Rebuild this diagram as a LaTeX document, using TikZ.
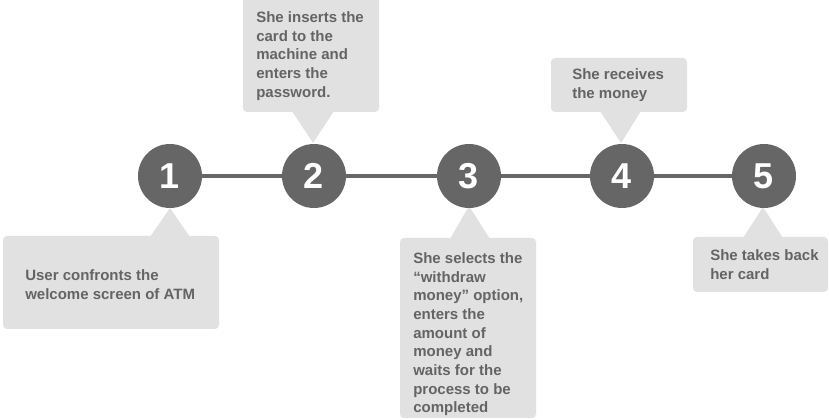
\documentclass[tikz,border=0pt]{standalone}
\usepackage{fontspec}
\setmainfont{Liberation Sans}
\definecolor{dark}{HTML}{666666}
\definecolor{boxgray}{HTML}{E1E1E1}
\definecolor{txt}{HTML}{646464}
\tikzset{
  stepcircle/.style={circle, fill=dark, minimum size=48pt, inner sep=0pt,
    text=white, font=\fontsize{27}{27}\selectfont\bfseries},
  calltext/.style={anchor=north west, inner sep=0pt, align=left, text=txt,
    font=\fontsize{11.25}{14}\selectfont\bfseries},
  callbox/.style={fill=boxgray, rounded corners=3pt},
  tipfill/.style={fill=boxgray},
  link/.style={draw=dark, line width=3.6pt}
}
\begin{document}
\begin{tikzpicture}[x=0.75pt,y=-0.75pt]
\useasboundingbox (0,0) rectangle (829,420);
% callout boxes
\fill[callbox] (3,236) rectangle (219,329);
\fill[tipfill] (150,237) -- (170,208) -- (190,237) -- cycle;
\fill[callbox] (243,-4) rectangle (379,112);
\fill[tipfill] (292,111) -- (313,143) -- (334,111) -- cycle;
\fill[callbox] (400,238) rectangle (536,418);
\fill[tipfill] (450,239) -- (469,206) -- (490,239) -- cycle;
\fill[callbox] (551,58) rectangle (687,112);
\fill[tipfill] (600,111) -- (621,143) -- (641,111) -- cycle;
\fill[callbox] (693,237) rectangle (828,292);
\fill[tipfill] (743,238) -- (763,207) -- (783,238) -- cycle;
% circles
\node[stepcircle] (c1) at (170,176) {1};
\node[stepcircle] (c2) at (314,176) {2};
\node[stepcircle] (c3) at (469,176) {3};
\node[stepcircle] (c4) at (622,176) {4};
\node[stepcircle] (c5) at (764,176) {5};
\draw[link] (c1.east) -- (c2.west);
\draw[link] (c2.east) -- (c3.west);
\draw[link] (c3.east) -- (c4.west);
\draw[link] (c4.east) -- (c5.west);
% texts
\node[calltext] (t1) at (25,269.5) {User confronts the\\welcome screen of ATM};
\node[calltext] (t2) at (256,11.5) {She inserts the\\card to the\\machine and\\enters the\\password.};
\node[calltext] (t3) at (413,252.5) {She selects the\\“withdraw\\money” option,\\enters the\\amount of\\money and\\waits for the\\process to be\\completed};
\node[calltext] (t4) at (572,68.5) {She receives\\the money};
\node[calltext] (t5) at (710,249.5) {She takes back\\her card};
\end{tikzpicture}
\end{document}
